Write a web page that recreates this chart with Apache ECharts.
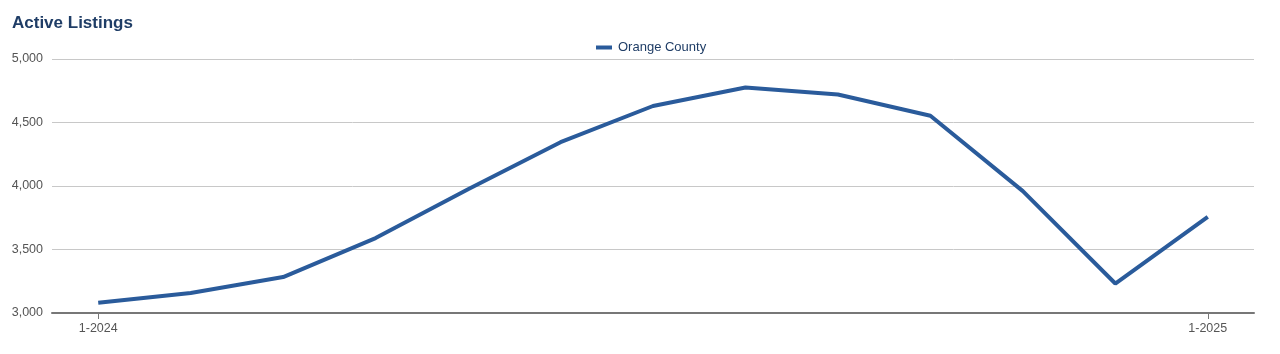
<!DOCTYPE html>
<html>
<head>
<meta charset="utf-8">
<script src="https://cdn.jsdelivr.net/npm/echarts@6/dist/echarts.min.js"></script>
<style>
  html, body { margin: 0; padding: 0; background: #fff; }
  #chart { width: 1280px; height: 354px; }
</style>
</head>
<body>
<div id="chart"></div>
<script>
var months = ['1-2024', '2-2024', '3-2024', '4-2024', '5-2024', '6-2024', '7-2024',
              '8-2024', '9-2024', '10-2024', '11-2024', '12-2024', '1-2025'];
var orangeCounty = [3081, 3158, 3283, 3590, 3975, 4345, 4630, 4775, 4720, 4553, 3960, 3232, 3757];
var yTicks = [3000, 3500, 4000, 4500, 5000];

var myChart = echarts.init(document.getElementById('chart'));
var lastIdx = months.length - 1;
function edgeOnly(i) { return i === 0 || i === lastIdx; }

var option = {
    animation: false,
    title: {
        text: 'Active Listings',
        left: 7,
        top: 10,
        textStyle: { fontFamily: 'Liberation Sans', fontSize: 17, fontWeight: 'bold', color: '#1f3d66' }
    },
    legend: {
        top: 36,
        left: 591,
        itemWidth: 16,
        itemHeight: 4,
        itemGap: 6,
        icon: 'rect',
        textStyle: { fontFamily: 'Liberation Sans', fontSize: 13, color: '#1f3d66', padding: [0, 0, 0, 1] },
        data: ['Orange County']
    },
    grid: { left: 52, right: 26, top: 59, bottom: 41 },
    xAxis: {
        type: 'category',
        data: months,
        boundaryGap: true,
        axisLine: { lineStyle: { color: '#777', width: 2 } },
        axisTick: {
            show: true,
            alignWithLabel: true,
            length: 6,
            lineStyle: { color: '#777', width: 1 },
            interval: edgeOnly
        },
        axisLabel: {
            interval: edgeOnly,
            fontFamily: 'Liberation Sans',
            fontSize: 12.5,
            color: '#555',
            margin: 9
        }
    },
    yAxis: {
        type: 'value',
        min: yTicks[0],
        max: yTicks[yTicks.length - 1],
        interval: 500,
        axisLine: { show: false },
        axisTick: { show: false },
        splitLine: { lineStyle: { color: '#c8c8c8' } },
        axisLabel: {
            fontFamily: 'Liberation Sans',
            fontSize: 12.5,
            color: '#555',
            margin: 9,
            formatter: function (v) { return v.toLocaleString('en-US'); }
        }
    },
    series: [{
        name: 'Orange County',
        type: 'line',
        data: orangeCounty,
        symbol: 'none',
        lineStyle: { color: '#2a5b9b', width: 4 },
        itemStyle: { color: '#2a5b9b' }
    }]
};
myChart.setOption(option);
</script>
</body>
</html>
